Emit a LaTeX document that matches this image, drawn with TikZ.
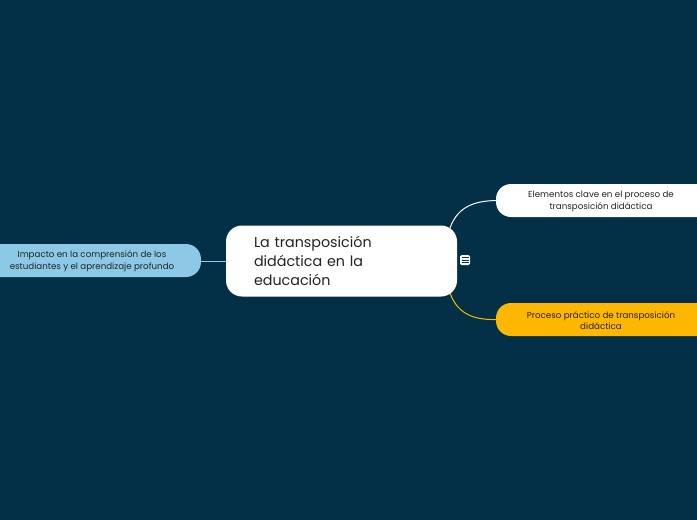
\documentclass[tikz,border=0pt]{standalone}
\usepackage{fontspec}
\setmainfont{Poppins}
\definecolor{bg}{RGB}{3,48,70}
\definecolor{lblue}{RGB}{140,201,230}
\definecolor{orng}{RGB}{253,183,0}
\definecolor{txt}{RGB}{35,35,35}
\pgfdeclarelayer{bgl}
\pgfdeclarelayer{edges}
\pgfsetlayers{bgl,edges,main}
\begin{document}
\begin{tikzpicture}[x=1pt,y=-1pt,
  topic/.style={rounded corners=15pt, inner sep=0pt, align=center, text=txt, font=\fontsize{8.7}{11.5}\selectfont},
  conn/.style={line width=1pt}]
\begin{pgfonlayer}{bgl}
\fill[bg] (0,0) rectangle (697,520);
\end{pgfonlayer}
\useasboundingbox (0,0) rectangle (697,520);
% central
\node[fill=white, rounded corners=16pt, minimum width=231pt, minimum height=71pt, inner sep=0pt, text width=175pt, align=left, text=txt, font=\fontsize{14.3}{19}\selectfont] (c) at (341.5,261) {La transposición\\didáctica en la\\educación};
% left
\node[topic, fill=lblue, minimum width=241pt, minimum height=33pt] (l) at (80.5,260.5) {};
\node[topic] (lt) at (92,261) {Impacto en la comprensión de los\\estudiantes y el aprendizaje profundo};
% right top
\node[topic, fill=white, minimum width=240pt, minimum height=33pt] (r1) at (616,200.5) {};
\node[topic] (r1t) at (601,201.5) {Elementos clave en el proceso de\\transposición didáctica};
% right bottom
\node[topic, fill=orng, minimum width=240pt, minimum height=33pt] (r2) at (616,319.5) {};
\node[topic] (r2t) at (601,320.5) {Proceso práctico de transposición\\didáctica};
% connectors
\coordinate (c1) at (449,231);
\coordinate (c2) at (449,290);
\begin{pgfonlayer}{edges}
\draw[conn, lblue] (l.east |- c.west) -- (c.west);
\draw[conn, white] (c1) .. controls (456,208) and (472,201) .. (r1.west);
\draw[conn, orng] (c2) .. controls (456,313) and (472,320) .. (r2.west);
\end{pgfonlayer}
% icon
\node[fill=white, rounded corners=1.5pt, minimum size=10pt, inner sep=0pt] (ic) at (465,260) {};
\foreach \yy in {257.5,260,262.5} \draw[bg, line width=0.8pt] (461.5,\yy) -- (468.5,\yy);
\end{tikzpicture}
\end{document}
